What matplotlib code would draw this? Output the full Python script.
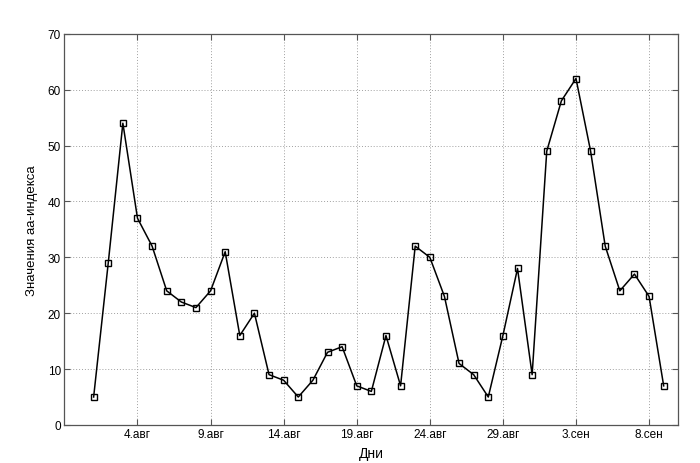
import numpy as np
import matplotlib
matplotlib.use("Agg")
import matplotlib.pyplot as plt

# дни: 1 = 1 авг ... 40 = 9 сен
days = np.arange(1, 41)
aa_index = [5, 29, 54, 37, 32, 24, 22, 21, 24, 31,
            16, 20, 9, 8, 5, 8, 13, 14, 7, 6,
            16, 7, 32, 30, 23, 11, 9, 5, 16, 28,
            9, 49, 58, 62, 49, 32, 24, 27, 23, 7]

tick_days = [4, 9, 14, 19, 24, 29, 34, 39]
tick_labels = ["4.авг", "9.авг", "14.авг", "19.авг", "24.авг", "29.авг", "3.сен", "8.сен"]
y_ticks = [0, 10, 20, 30, 40, 50, 60, 70]

plt.rcParams["font.family"] = ["Liberation Sans", "DejaVu Sans"]

fig = plt.figure(figsize=(7, 4.64), dpi=100)
ax = fig.add_axes([0.092, 0.082, 0.877, 0.843])

ax.plot(days, aa_index, color="black", linewidth=1.1,
        marker="s", markersize=5, markerfacecolor="none",
        markeredgecolor="black", markeredgewidth=1.0)

ax.set_xlim(-1, 41)
ax.set_ylim(0, 70)
ax.set_xticks(tick_days)
ax.set_xticklabels(tick_labels)
ax.set_yticks(y_ticks)

ax.grid(True, linestyle=(0, (1, 2)), color="#a0a0a0", linewidth=0.7)
ax.tick_params(direction="in", top=True, right=True, length=4,
               labelsize=8.5, color="#555555", pad=2.5)
for s in ax.spines.values():
    s.set_color("#555555")
    s.set_linewidth(0.9)

ax.set_xlabel("Дни", fontsize=10, labelpad=4)
ax.set_ylabel("Значения аа-индекса", fontsize=9.5, labelpad=7)

fig.savefig("out.png", dpi=100)
